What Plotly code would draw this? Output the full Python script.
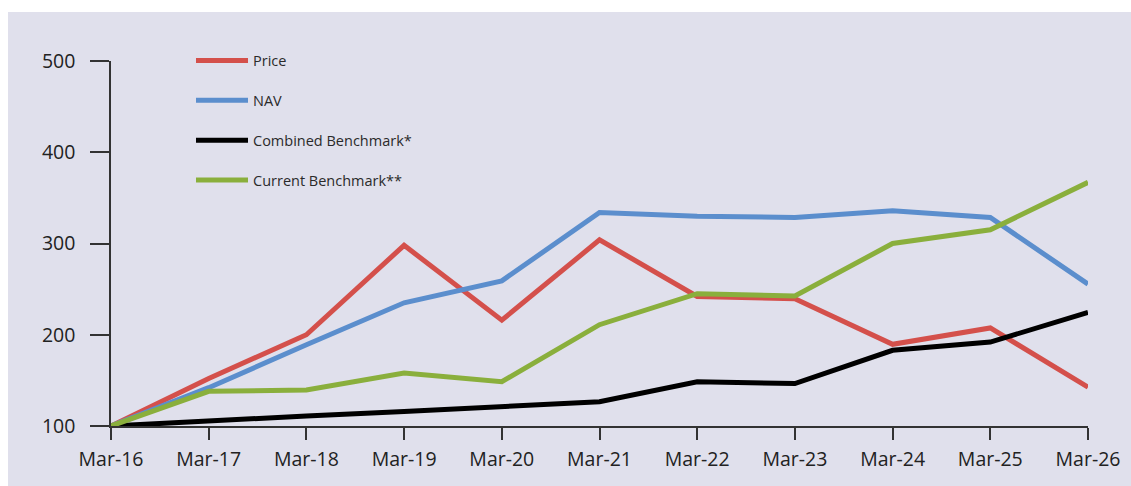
import plotly.graph_objects as go

years = ["Mar-16", "Mar-17", "Mar-18", "Mar-19", "Mar-20", "Mar-21",
         "Mar-22", "Mar-23", "Mar-24", "Mar-25", "Mar-26"]
price = [100, 152, 200, 298, 216, 304, 242, 239.5, 189.5, 207.5, 142.5]
nav = [100, 142, 189, 235, 259, 334, 330, 328.5, 336, 328.5, 255.5]
combined = [100, 106, 111, 116, 121, 126.5, 148.5, 146.5, 183, 192, 224.5]
current = [100, 138, 139.5, 158, 148.5, 211, 245, 242.5, 300, 315, 367]
y_ticks = [100, 200, 300, 400, 500]

BG = "#e0e0ec"
series = [
    ("Price", price, "#d4504b"),
    ("NAV", nav, "#5b8ecd"),
    ("Combined Benchmark*", combined, "#000000"),
    ("Current Benchmark**", current, "#8aaf3c"),
]

fig = go.Figure()
for i, (name, vals, col) in enumerate(series):
    fig.add_trace(go.Scatter(
        x=years, y=vals, mode="lines", name=name,
        line=dict(color=col, width=5), legendgroup=str(i),
    ))

W, H = 1131, 486
L, R, T, B = 111, 43, 61, 60
fig.update_layout(
    width=W, height=H,
    margin=dict(l=L, r=R, t=T, b=B),
    paper_bgcolor=BG, plot_bgcolor=BG,
    font=dict(family="Open Sans, Noto Sans, sans-serif", color="#222222"),
    showlegend=True,
    legend=dict(
        x=(191 - L) / (W - L - R), y=1.045, xanchor="left", yanchor="top",
        bgcolor="rgba(0,0,0,0)", font=dict(size=14.5, color="#2a2a2a"),
        tracegroupgap=18, itemwidth=52,
    ),
    xaxis=dict(
        type="category", range=[0, 10], showgrid=False, zeroline=False,
        showline=True, linecolor="#333333", linewidth=1.5,
        ticks="outside", ticklen=12, tickcolor="#333333", tickwidth=1.5,
        tickfont=dict(size=19.5, color="#222222"), ticklabelstandoff=3,
    ),
    yaxis=dict(
        range=[100, 500], tickvals=y_ticks, showgrid=False, zeroline=False,
        showline=True, linecolor="#333333", linewidth=1.5,
        ticks="outside", ticklen=19, tickcolor="#333333", tickwidth=1.5,
        tickfont=dict(size=19.5, color="#222222"), ticklabelstandoff=11,
    ),
    shapes=[
        dict(type="rect", xref="paper", yref="paper",
             x0=-L / (W - L - R), x1=(W - L) / (W - L - R),
             y0=1 + (T - 12) / (H - T - B), y1=1 + T / (H - T - B),
             fillcolor="white", line=dict(width=0), layer="above"),
        dict(type="rect", xref="paper", yref="paper",
             x0=-L / (W - L - R), x1=(8 - L) / (W - L - R),
             y0=-B / (H - T - B), y1=1 + T / (H - T - B),
             fillcolor="white", line=dict(width=0), layer="above"),
    ],
)
fig.write_html("out.html")
